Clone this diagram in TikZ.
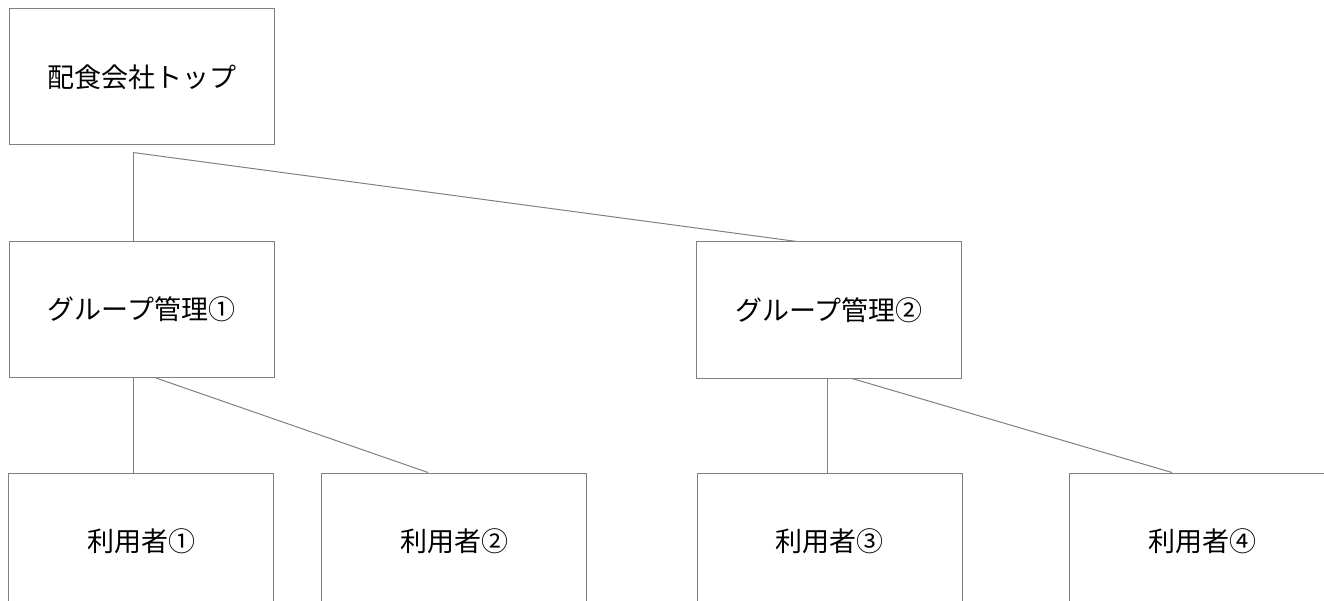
\documentclass[tikz,border=0pt]{standalone}
\usepackage{fontspec}
\newfontfamily\cjk{Noto Sans CJK JP}
\usetikzlibrary{calc}
\definecolor{linegray}{HTML}{808080}
\tikzset{
  box/.style={draw=linegray, line width=1pt, minimum width=265pt, minimum height=136pt,
    inner sep=0pt, font=\cjk\fontsize{27}{31}\selectfont, text=black},
  conn/.style={draw=linegray, line width=1pt}
}
\begin{document}
\begin{tikzpicture}[x=1pt,y=-1pt]
\useasboundingbox (0,0) rectangle (1324,601);
\clip (0,0) rectangle (1324,601);
\node[box] (top) at (141.5,77) {配食会社トップ};
\node[box] (g1) at (141.5,309.5) {グループ管理①};
\node[box] (g2) at (829,310) {グループ管理②};
\node[box] (u1) at (141,541) {利用者①};
\node[box] (u2) at (454,541) {利用者②};
\node[box] (u3) at (829.5,541) {利用者③};
\node[box] (u4) at (1202,541) {利用者④};
\coordinate (tj) at ($(top.south)+(-8.5,7)$);
\draw[conn] (tj) -- (tj |- g1.north);
\draw[conn] (tj) -- ($(g2.north)+(-32,0)$);
\draw[conn] ($(g1.south)+(-8.5,0)$) -- ($(u1.north)+(-8,0)$);
\draw[conn] ($(g1.south)+(14.5,0)$) -- ($(u2.north)+(-26,0)$);
\draw[conn] ($(g2.south)+(-2,0)$) -- ($(u3.north)+(-2.5,0)$);
\draw[conn] ($(g2.south)+(23,0)$) -- ($(u4.north)+(-30,0)$);
\end{tikzpicture}
\end{document}
